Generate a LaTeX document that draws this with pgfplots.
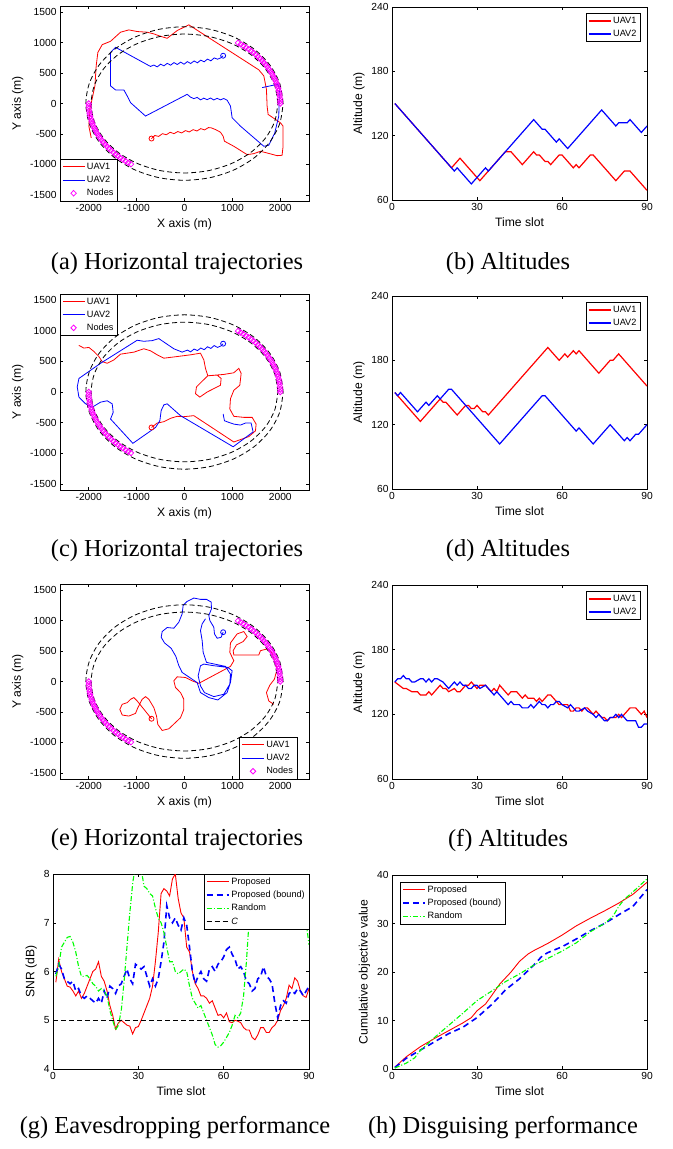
\documentclass[border=0pt]{standalone}
\usepackage{fontspec}
\setmainfont{Liberation Serif}
\newfontfamily\arial{Liberation Sans}
\usepackage{pgfplots}
\usepackage{pgfplotstable}
\pgfplotsset{compat=1.18}

\definecolor{mred}{RGB}{255,0,0}
\definecolor{mblue}{RGB}{0,0,255}
\definecolor{mgreen}{RGB}{0,255,0}
\definecolor{mmag}{RGB}{255,0,255}

\pgfplotsset{
  mat/.style={
    scale only axis, anchor=south west,
    axis line style={line width=0.5bp},
    tick style={line width=0.5bp, black},
    tick align=inside, major tick length=2.8bp,
    /pgf/number format/assume math mode=true,
    tick label style={font=\arial\fontsize{10.3}{12}\selectfont},
    label style={font=\arial\fontsize{12.2}{14}\selectfont},
    legend style={font=\arial\fontsize{9.2}{11}\selectfont,
      inner xsep=2bp, inner ysep=1.5bp, row sep=1.2bp},
    legend cell align=left,
    legend image code/.code={\draw[##1] (0bp,0bp) -- (22bp,0bp);},
  },
  % solid red legend sample set as a coloured rule
  redleg/.style={legend image code/.code={\node[inner sep=0pt, anchor=west] at (0bp,0bp)
    {\textcolor{mred}{\rule[-0.6bp]{22bp}{#1}}};}},
  traj/.style={mat, width=249bp, height=195bp,
    xmin=-2600, xmax=2600, ymin=-1600, ymax=1600,
    xtick={-2000,-1000,0,1000,2000}, xticklabels={-2000,-1000,0,1000,2000},
    ytick={-1500,-1000,-500,0,500,1000,1500},
    yticklabels={-1500,-1000,-500,0,500,1000,1500},
    xlabel={X axis (m)}, ylabel={Y axis (m)}},
  alt/.style={mat, width=255bp, height=193bp,
    xmin=0, xmax=90, ymin=60, ymax=240,
    xtick={0,30,60,90}, ytick={60,120,180,240},
    xlabel={Time slot}, ylabel={Altitude (m)},
    legend style={at={(0.975,0.967)}, anchor=north east}},
  ell/.style={black, line width=0.8bp, dash pattern=on 5bp off 3bp, smooth, forget plot},
  nod/.style={only marks, mark=diamond, mmag, mark size=2.8bp, line width=0.8bp,
    mark options={xscale=1.3},
    legend image code/.code={\draw[##1] plot coordinates {(11bp,0bp)};}},
}

% dashed ellipses and node positions
\pgfplotstableread{
x y
2060 0
1990 326
1784 630
1457 891
1030 1091
533 1217
0 1260
-533 1217
-1030 1091
-1457 891
-1784 630
-1990 326
-2060 0
-1990 -326
-1784 -630
-1457 -891
-1030 -1091
-533 -1217
0 -1260
533 -1217
1030 -1091
1457 -891
1784 -630
1990 -326
2060 0
}\outerell
\pgfplotstableread{
x y
1950 0
1884 295
1689 570
1379 806
975 987
505 1101
0 1140
-505 1101
-975 987
-1379 806
-1689 570
-1884 295
-1950 0
-1884 -295
-1689 -570
-1379 -806
-975 -987
-505 -1101
0 -1140
505 -1101
975 -987
1379 -806
1689 -570
1884 -295
1950 0
}\innerell
\pgfplotstableread{
x y
2000 0
1999 42
1995 84
1989 125
1981 167
1970 208
1956 249
1941 290
1923 331
1902 371
1879 410
1854 450
1827 488
1798 526
1766 563
1732 600
1696 636
1658 671
1618 705
1576 739
1532 771
1486 803
1439 834
1389 863
1338 892
1286 919
1231 946
1176 971
1118 995
-2000 0
-1999 -42
-1995 -84
-1989 -125
-1981 -167
-1970 -208
-1956 -249
-1941 -290
-1923 -331
-1902 -371
-1879 -410
-1854 -450
-1827 -488
-1798 -526
-1766 -563
-1732 -600
-1696 -636
-1658 -671
-1618 -705
-1576 -739
-1532 -771
-1486 -803
-1439 -834
-1389 -863
-1338 -892
-1286 -919
-1231 -946
-1176 -971
-1118 -995
}\nodestab

\begin{document}
\begin{tikzpicture}
\useasboundingbox (0,0) rectangle (673bp,-1149bp);

% (a)
\begin{axis}[traj, at={(60bp,-201bp)}, legend style={at={(0,0)}, anchor=south west}]
\addplot[mred, line width=0.8bp, redleg=0.9bp] table {
x y
-689 -575
-620 -525
-540 -540
-460 -495
-380 -513
-300 -472
-220 -495
-140 -460
-60 -483
20 -445
100 -467
180 -429
260 -451
340 -412
420 -433
500 -395
560 -400
647 -427
751 -471
807 -537
835 -619
1030 -702
1308 -839
1447 -823
1586 -784
1725 -812
1934 -856
2038 -850
2059 -702
2059 -372
2004 -317
1746 -179
1725 -41
1711 234
1656 454
1551 553
90 1291
-153 1197
-362 1070
-501 1103
-640 1142
-779 1170
-988 1181
-1162 1208
-1336 1170
-1544 1021
-1718 966
-1809 839
-1844 619
-1871 289
-1976 -96
-1997 -372
-1948 -564
};
\addlegendentry{UAV1}
\addplot[mblue, line width=0.8bp] table {
x y
807 784
760 750
690 727
620 748
550 700
480 729
410 684
340 712
270 668
200 698
130 656
60 687
-10 645
-80 679
-150 640
-220 671
-290 629
-360 659
-430 618
-500 645
-570 601
-640 631
-710 608
-1440 922
-1544 839
-1544 289
-1440 223
-1266 223
-1197 124
-1127 14
-814 -206
56 151
125 105
195 80
265 100
334 60
404 88
473 62
543 90
612 58
682 85
751 60
820 82
890 55
960 -41
995 -234
1169 -372
1656 -702
1760 -685
1885 -482
1969 -206
1983 234
1955 317
1621 261
};
\addlegendentry{UAV2}
\addplot[nod] table {\nodestab};
\addlegendentry{Nodes}
\addplot[ell] table {\outerell};
\addplot[ell] table {\innerell};
\addplot[mred, only marks, mark=o, mark size=2.5bp, line width=0.8bp, forget plot] coordinates {(-689,-575)};
\addplot[mblue, only marks, mark=o, mark size=2.5bp, line width=0.8bp, forget plot] coordinates {(807,784)};
\end{axis}

% (b)
\begin{axis}[alt, at={(392bp,-200bp)}]
\addplot[mred, line width=1.2bp] coordinates {
(1,150) (21,90) (24,99) (31,78) (40,105) (42,105) (46,93) (50,105) (51,102) (52,102)
(54,96) (55,96) (56,93) (59,102) (60,102) (64,90) (65,93) (66,90) (70,102) (71,102)
(79,78) (82,87) (84,87) (90,69)};
\addlegendentry{UAV1}
\addplot[mblue, line width=1.2bp] coordinates {
(1,150) (21,90) (22,87) (23,90) (28,75) (33,90) (34,87) (50,135) (53,126) (54,126)
(58,114) (59,117) (62,108) (74,144) (79,129) (80,132) (83,132) (84,135) (88,123) (90,129)};
\addlegendentry{UAV2}
\end{axis}

% (c)
\begin{axis}[traj, at={(60bp,-490bp)}, height=196bp, legend style={at={(0,1)}, anchor=north west}]
\addplot[mred, line width=0.8bp, redleg=1.3bp] table {
x y
-2205 761
-2101 717
-1997 728
-1892 662
-1788 579
-1718 496
-1614 469
-1475 524
-1336 618
-1057 651
-849 706
-710 673
-570 607
-431 552
-153 579
125 607
334 634
404 524
438 386
487 265
682 276
765 221
751 110
473 0
320 -83
230 -28
250 83
369 176
487 265
821 287
1030 314
1134 386
1183 303
1155 110
1030 28
960 -110
946 -276
1030 -397
1238 -414
1412 -414
1496 -524
1482 -634
1343 -728
1030 -816
195 -386
-14 -403
-153 -397
-292 -430
-431 -485
-570 -507
-689 -579
};
\addlegendentry{UAV1}
\addplot[mblue, line width=0.8bp] table {
x y
807 789
760 752
690 728
620 758
550 712
480 738
410 690
340 718
270 676
200 702
130 656
60 684
-49 651
-223 706
-536 872
-675 839
-849 828
-988 845
-1753 469
-2205 221
-2240 83
-2205 -83
-2066 -193
-1927 -248
-1753 -166
-1614 -143
-1510 -193
-1489 -331
-1544 -441
-1078 -838
-605 -579
-515 -469
-487 -303
-431 -210
-362 -193
-84 -386
334 -579
1016 -894
1433 -651
1391 -507
1273 -507
1169 -540
1030 -524
925 -496
835 -469
807 -359
};
\addlegendentry{UAV2}
\addplot[nod] table {\nodestab};
\addlegendentry{Nodes}
\addplot[ell] table {\outerell};
\addplot[ell] table {\innerell};
\addplot[mred, only marks, mark=o, mark size=2.5bp, line width=0.8bp, forget plot] coordinates {(-689,-579)};
\addplot[mblue, only marks, mark=o, mark size=2.5bp, line width=0.8bp, forget plot] coordinates {(807,789)};
\end{axis}

% (d)
\begin{axis}[alt, at={(392bp,-489bp)}]
\addplot[mred, line width=1.2bp] coordinates {
(1,150) (10,123) (17,144) (18,141) (19,141) (23,129) (26,138) (27,138) (28,135) (29,135)
(30,138) (31,135) (32,132) (33,132) (34,129) (55,192) (59,180) (61,186) (62,183) (64,189)
(65,186) (66,189) (73,168) (77,180) (78,180) (80,186) (90,156)};
\addlegendentry{UAV1}
\addplot[mblue, line width=1.2bp] coordinates {
(1,150) (2,147) (3,150) (9,132) (12,141) (13,138) (16,147) (17,144) (20,153) (21,153)
(38,102) (53,147) (54,147) (65,114) (66,117) (71,102) (77,120) (82,105) (83,108) (84,105)
(86,111) (87,111) (90,120)};
\addlegendentry{UAV2}
\end{axis}

% (e)
\begin{axis}[traj, at={(60bp,-779bp)}, legend style={at={(0.952,0)}, anchor=south east}]
\addplot[mred, line width=0.8bp, redleg=1.3bp] table {
x y
-689 -611
-988 -319
-1057 -264
-1127 -292
-1197 -347
-1301 -374
-1350 -457
-1301 -550
-1162 -567
-1023 -523
-974 -429
-884 -292
-814 -248
-744 -292
-640 -429
-584 -567
-557 -704
-466 -803
-327 -776
-209 -688
-83 -594
-14 -457
-14 -292
-83 -182
-188 -99
-223 11
-153 77
21 66
160 11
299 -30
960 248
1030 341
946 479
960 633
1099 781
1238 820
1308 737
1224 655
1085 600
1016 506
1030 435
1551 435
1586 506
1725 534
1830 468
1878 341
1934 204
1878 39
1781 -61
1711 -182
1760 -319
1864 -374
};
\addlegendentry{UAV1}
\addplot[mblue, line width=0.8bp] table {
x y
807 809
765 726
682 710
626 781
612 891
529 1001
508 1084
564 1194
557 1304
459 1348
334 1348
195 1370
56 1315
-28 1249
-49 1111
-118 974
-223 875
-362 886
-466 820
-487 726
-417 633
-278 545
-181 413
-118 259
-49 149
264 -17
334 -182
508 -264
696 -303
890 -182
960 -17
995 176
904 231
612 259
404 286
334 259
285 94
334 -72
417 -182
612 -248
821 -209
946 -44
960 121
856 248
459 314
390 479
369 671
334 836
369 946
438 1029
};
\addlegendentry{UAV2}
\addplot[nod] table {\nodestab};
\addlegendentry{Nodes}
\addplot[ell] table {\outerell};
\addplot[ell] table {\innerell};
\addplot[mred, only marks, mark=o, mark size=2.5bp, line width=0.8bp, forget plot] coordinates {(-689,-611)};
\addplot[mblue, only marks, mark=o, mark size=2.5bp, line width=0.8bp, forget plot] coordinates {(807,809)};
\end{axis}

% (f)
\begin{axis}[alt, at={(392bp,-779bp)}, height=194bp]
\addplot[mred, line width=1.2bp] table {
x y
1 150
4 144
5 144
7 141
9 141
10 138
12 138
13 141
14 138
17 147
18 144
19 144
20 141
22 144
23 141
24 141
26 147
27 147
28 150
29 147
30 144
31 147
33 147
35 141
36 144
37 141
38 147
41 138
42 141
44 141
46 135
47 138
48 135
50 135
51 132
52 135
53 132
55 138
56 138
58 132
59 129
62 129
63 123
64 123
65 126
66 126
67 123
68 126
69 126
71 120
72 123
73 120
74 117
75 117
76 114
77 117
79 117
80 120
81 117
82 120
84 126
86 126
88 120
89 123
90 117
};
\addlegendentry{UAV1}
\addplot[mblue, line width=1.2bp] table {
x y
1 150
2 153
3 153
4 156
5 153
6 153
7 150
8 150
10 153
11 153
12 150
13 153
14 150
15 153
16 153
18 150
19 147
20 144
21 147
22 150
23 147
24 150
25 147
26 147
27 144
28 144
29 147
30 147
31 144
33 147
34 144
36 138
37 141
38 138
40 132
41 129
42 132
43 129
45 129
46 126
48 126
49 129
50 126
52 132
53 129
54 129
55 126
56 129
57 129
58 132
59 132
60 129
62 126
63 129
64 126
65 123
66 123
68 126
69 123
71 120
72 117
73 120
74 117
75 114
76 114
77 117
78 117
79 120
80 117
81 120
82 117
83 114
86 114
87 108
88 108
89 111
90 111
};
\addlegendentry{UAV2}
\end{axis}

% (g)
\begin{axis}[mat, at={(53bp,-1069bp)}, width=256bp, height=195bp,
  xmin=0, xmax=90, ymin=4, ymax=8, xtick={0,30,60,90}, ytick={4,5,6,7,8},
  xlabel={Time slot}, ylabel={SNR (dB)},
  legend style={at={(1,1)}, anchor=north east}]
\addplot[mred, line width=0.9bp, redleg=1.3bp] table {
x y
1 5.78
2 6.25
3 6.0
4 5.85
5 5.7
6 5.68
7 5.6
8 5.5
9 5.6
10 5.45
11 5.55
12 5.7
13 5.85
14 6.0
15 6.05
16 6.2
17 5.9
18 5.8
19 5.6
20 5.3
21 5.1
22 4.82
23 4.95
24 5.0
25 4.95
26 4.9
27 4.88
28 4.72
29 4.85
30 4.87
31 5.0
32 5.15
33 5.3
34 5.45
35 5.7
36 6.2
37 6.8
38 7.6
39 7.7
40 7.65
41 7.55
42 7.9
43 8.0
44 7.5
45 7.2
46 7.1
47 6.5
48 6.4
49 6.0
50 5.75
51 5.65
52 5.5
53 5.5
54 5.45
55 5.35
56 5.4
57 5.25
58 5.1
59 5.12
60 5.05
61 5.15
62 4.97
63 4.95
64 5.0
65 4.98
66 4.95
67 4.85
68 4.8
69 4.8
70 4.65
71 4.6
72 4.7
73 4.85
74 4.85
75 4.75
76 4.75
77 4.85
78 4.9
79 5.0
80 5.2
81 5.3
82 5.45
83 5.72
84 5.65
85 5.87
86 5.8
87 5.6
88 5.5
89 5.47
90 5.65
};
\addlegendentry{Proposed}
\addplot[mblue, line width=1.6bp, dash pattern=on 6bp off 4bp] table {
x y
1 5.95
2 6.15
3 6.05
4 5.85
5 5.8
6 5.75
7 5.8
8 5.6
9 5.65
10 5.5
11 5.45
12 5.5
13 5.45
14 5.4
15 5.35
16 5.45
17 5.35
18 5.6
19 5.45
20 5.7
21 5.65
22 5.55
23 5.7
24 5.75
25 5.9
26 6.05
27 5.85
28 5.75
29 6.15
30 6.1
31 6.05
32 6.1
33 5.9
34 5.7
35 5.85
36 5.7
37 5.85
38 6.2
39 6.6
40 7.35
41 7.1
42 7.0
43 7.1
44 6.95
45 6.85
46 7.1
47 6.95
48 6.5
49 6.0
50 5.75
51 5.9
52 6.0
53 5.85
54 5.8
55 6.05
56 6.1
57 6.0
58 6.15
59 6.2
60 6.3
61 6.45
62 6.5
63 6.35
64 6.25
65 6.05
66 6.1
67 6.0
68 5.8
69 5.75
70 5.6
71 5.65
72 5.85
73 5.9
74 6.1
75 5.9
76 5.85
77 5.75
78 5.35
79 5.05
80 5.3
81 5.4
82 5.35
83 5.55
84 5.6
85 5.55
86 5.65
87 5.6
88 5.5
89 5.6
90 5.7
};
\addlegendentry{Proposed (bound)}
\addplot[mgreen, line width=1.1bp, dash pattern=on 5bp off 2bp on 1bp off 2bp] table {
x y
1 5.9
2 6.1
3 6.5
4 6.6
5 6.7
6 6.72
7 6.6
8 6.4
9 6.1
10 5.9
11 5.9
12 5.92
13 5.85
14 5.75
15 5.7
16 5.6
17 5.65
18 5.6
19 5.5
20 5.2
21 5.0
22 4.8
23 4.9
24 5.2
25 5.8
26 6.5
27 7.2
28 7.8
29 8.2
30 8.3
31 8.1
32 7.75
33 7.7
34 7.6
35 7.55
36 7.3
37 7.1
38 7.0
39 6.8
40 6.5
41 6.2
42 6.2
43 6.0
44 5.95
45 6.0
46 6.05
47 6.0
48 5.7
49 5.45
50 5.35
51 5.25
52 5.3
53 5.15
54 5.0
55 4.85
56 4.7
57 4.5
58 4.45
59 4.48
60 4.55
61 4.65
62 4.75
63 4.9
64 5.1
65 5.05
66 5.15
67 5.5
68 6.2
69 7.1
70 8.0
71 8.8
75 9.5
80 9.8
85 9.3
87 8.3
88 7.6
89 7.0
90 6.55
};
\addlegendentry{Random}
\addplot[black, line width=0.9bp, dash pattern=on 5bp off 3bp] coordinates {(0,5) (90,5)};
\addlegendentry{\itshape C}
\end{axis}

% (h)
\begin{axis}[mat, at={(392bp,-1069bp)}, width=255bp, height=194bp,
  xmin=0, xmax=90, ymin=0, ymax=40, xtick={0,30,60,90}, ytick={0,10,20,30,40},
  xlabel={Time slot}, ylabel={Cumulative objective value},
  legend style={at={(0.031,0.964)}, anchor=north west}]
\addplot[mred, line width=0.9bp, redleg=1.3bp] coordinates {
(1,0.4) (5,2.5) (10,4.6) (15,6.3) (20,7.9) (25,9.5) (28,10.6) (30,12.0) (33,13.4) (35,15.0)
(38,17.5) (42,20.0) (45,22.2) (48,23.7) (50,24.4) (55,25.9) (60,27.6) (65,29.5) (70,31.1)
(75,32.6) (80,34.2) (85,36.0) (90,38.5)};
\addlegendentry{Proposed}
\addplot[mblue, line width=1.6bp, dash pattern=on 6bp off 4bp] coordinates {
(1,0.3) (5,2.2) (10,3.9) (15,5.6) (20,7.3) (25,8.6) (30,10.6) (35,13.2) (38,15.0) (40,16.3)
(45,18.6) (50,21.4) (53,23.3) (55,24.0) (60,25.2) (65,26.8) (70,28.5) (75,30.0) (80,31.8)
(85,33.5) (90,37.0)};
\addlegendentry{Proposed (bound)}
\addplot[mgreen, line width=1.1bp, dash pattern=on 5bp off 2bp on 1bp off 2bp] coordinates {
(1,0.2) (5,1.2) (8,2.3) (10,3.8) (15,6.5) (20,9.0) (25,11.5) (30,14.1) (35,16.0) (40,18.0)
(45,19.6) (50,21.4) (55,22.8) (60,24.3) (65,26.0) (70,28.3) (75,30.0) (78,31.5) (80,33.5)
(82,35.0) (85,36.5) (90,39.2)};
\addlegendentry{Random}
\end{axis}

% captions
\begin{scope}[every node/.style={font=\fontsize{24.5}{29}\selectfont, inner sep=0pt}]
\node at (177bp,-264bp) {(a) Horizontal trajectories};
\node at (508bp,-264bp) {(b) Altitudes};
\node at (177bp,-551bp) {(c) Horizontal trajectories};
\node at (508bp,-551bp) {(d) Altitudes};
\node at (177bp,-840bp) {(e) Horizontal trajectories};
\node at (508bp,-840bp) {(f) Altitudes};
\node at (175bp,-1128bp) {(g) Eavesdropping performance};
\node at (503bp,-1128bp) {(h) Disguising performance};
\end{scope}
\end{tikzpicture}
\end{document}
